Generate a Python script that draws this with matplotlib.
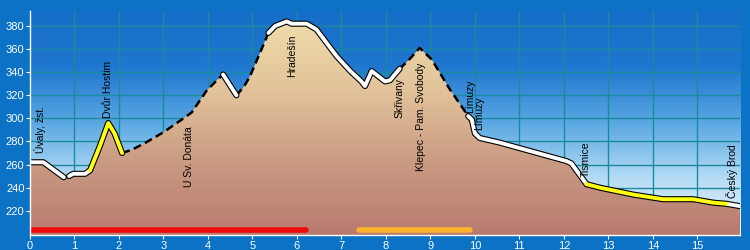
import numpy as np
import matplotlib
matplotlib.use("Agg")
import matplotlib.pyplot as plt
from matplotlib.colors import LinearSegmentedColormap

plt.rcParams["font.family"] = ["Liberation Sans", "DejaVu Sans"]

# --- profile data (km, m a.s.l.) -------------------------------------------
DIST = [0.00, 0.30, 0.76, 0.88, 0.97, 1.24, 1.35, 1.57, 1.76, 1.90, 2.07,
        2.30, 2.60, 3.00, 3.30, 3.63, 3.97, 4.20, 4.34, 4.64, 4.80, 4.94,
        5.15, 5.36, 5.51, 5.77, 5.88, 6.22, 6.44, 6.89, 7.20, 7.45, 7.53,
        7.68, 7.98, 8.09, 8.31, 8.50, 8.76, 9.03, 9.44, 9.85, 9.93, 10.00,
        10.11, 10.56, 12.06, 12.17, 12.51, 12.81, 13.56, 14.23, 14.53,
        14.91, 15.36, 15.66, 15.96]
ELEV = [262, 262, 249, 250, 252, 252, 255, 276, 296, 287, 270,
        273, 279, 288, 296, 305, 324, 333, 338, 320, 327, 336,
        355, 374, 380, 384, 382, 382, 377, 354, 341, 332, 328,
        341, 332, 333, 343, 350, 361, 351, 325, 302, 299, 287,
        283, 279, 263, 261, 243, 240, 234, 230, 230,
        230, 227, 226, 224]

# track surface sections (km from, km to)
WHITE = [(0.00, 0.76), (0.88, 1.35), (4.34, 4.64), (5.36, 8.31),
         (9.85, 12.51), (15.66, 15.96)]
YELLOW = [(1.35, 2.07), (12.51, 15.66)]
DASHED = [(2.07, 4.34), (4.64, 5.36), (8.31, 9.85)]

# coloured bars under the profile
BARS = [(0.0, 6.2, "#f00a0a"), (7.4, 9.9, "#fbb52d")]

# place names: (km, elevation where text starts, name)
LABELS = [
    (0.22, 270, "Úvaly, žst."),
    (1.75, 300, "Dvůr Hostim"),
    (3.57, 241, "U Sv. Donáta"),
    (5.90, 336, "Hradešín"),
    (8.30, 300, "Skřivany"),
    (8.80, 254, "Klepec - Pam. Svobody"),
    (9.90, 305, "Límuzy"),
    (10.10, 290, "Límuzy"),
    (12.50, 249, "Tismice"),
    (15.78, 231, "Český Brod"),
]

X_MAX = 15.96
Y_MIN, Y_MAX = 199, 393
BG = "#0b72c6"
GRID = "#1a8a9e"


def section(a, b):
    d = np.array(DIST)
    e = np.array(ELEV)
    m = (d >= a - 1e-9) & (d <= b + 1e-9)
    return d[m], e[m]


fig = plt.figure(figsize=(7.5, 2.5), dpi=100, facecolor=BG)
ax = fig.add_axes([0.04, 0.06, 0.9467, 0.896])
ax.set_xlim(0, X_MAX)
ax.set_ylim(Y_MIN, Y_MAX)

# sky gradient
sky = LinearSegmentedColormap.from_list(
    "sky", ["#eaf5fc", "#b6dcf4", "#5aa8e2", "#1f77cf", "#176ec8"])
grad = np.linspace(0, 1, 256).reshape(-1, 1)
ax.imshow(grad, cmap=sky, aspect="auto", origin="lower",
          extent=[0, X_MAX, Y_MIN, Y_MAX], zorder=0)

ax.set_xticks(range(16))
ax.set_yticks(range(220, 381, 20))
ax.set_axisbelow(True)
ax.grid(True, color=GRID, linewidth=1.0)

# ground fill gradient clipped to the profile
ground = LinearSegmentedColormap.from_list(
    "ground", ["#b87a70", "#c99a82", "#e2c29a", "#f0dcaa"])
poly = ax.fill_between(DIST, ELEV, Y_MIN, color="none", zorder=2)
img = ax.imshow(np.linspace(0, 1, 256).reshape(-1, 1), cmap=ground,
                aspect="auto", origin="lower",
                extent=[0, X_MAX, Y_MIN, 385], zorder=2)
img.set_clip_path(poly.get_paths()[0], transform=ax.transData)

# profile line by surface
for a, b in WHITE:
    x, y = section(a, b)
    ax.plot(x, y, color="black", lw=4.4, solid_capstyle="round",
            solid_joinstyle="round", zorder=4)
    ax.plot(x, y, color="white", lw=2.8, solid_capstyle="round",
            solid_joinstyle="round", zorder=5)
for a, b in YELLOW:
    x, y = section(a, b)
    ax.plot(x, y, color="black", lw=4.4, solid_capstyle="round",
            solid_joinstyle="round", zorder=4)
    ax.plot(x, y, color="#ffff10", lw=2.8, solid_capstyle="round",
            solid_joinstyle="round", zorder=5)
for a, b in DASHED:
    x, y = section(a, b)
    ax.plot(x, y, color="black", lw=1.8, dashes=(3.2, 1.8), zorder=4)

for a, b, c in BARS:
    ax.plot([a, b], [203.5, 203.5], color=c, lw=4, solid_capstyle="round",
            zorder=6)

for x, y, name in LABELS:
    ax.text(x, y, name, rotation=90, ha="center", va="bottom",
            fontsize=7.5, color="black", zorder=7)

for s in ("top", "right"):
    ax.spines[s].set_visible(False)
for s in ("left", "bottom"):
    ax.spines[s].set_color("white")
    ax.spines[s].set_linewidth(1.0)
    ax.spines[s].set_zorder(8)
ax.tick_params(colors="white", labelsize=8, length=3, width=0.8, pad=1)
ax.tick_params(axis="x", pad=1.5)

fig.savefig("out.png", dpi=100, facecolor=BG)
